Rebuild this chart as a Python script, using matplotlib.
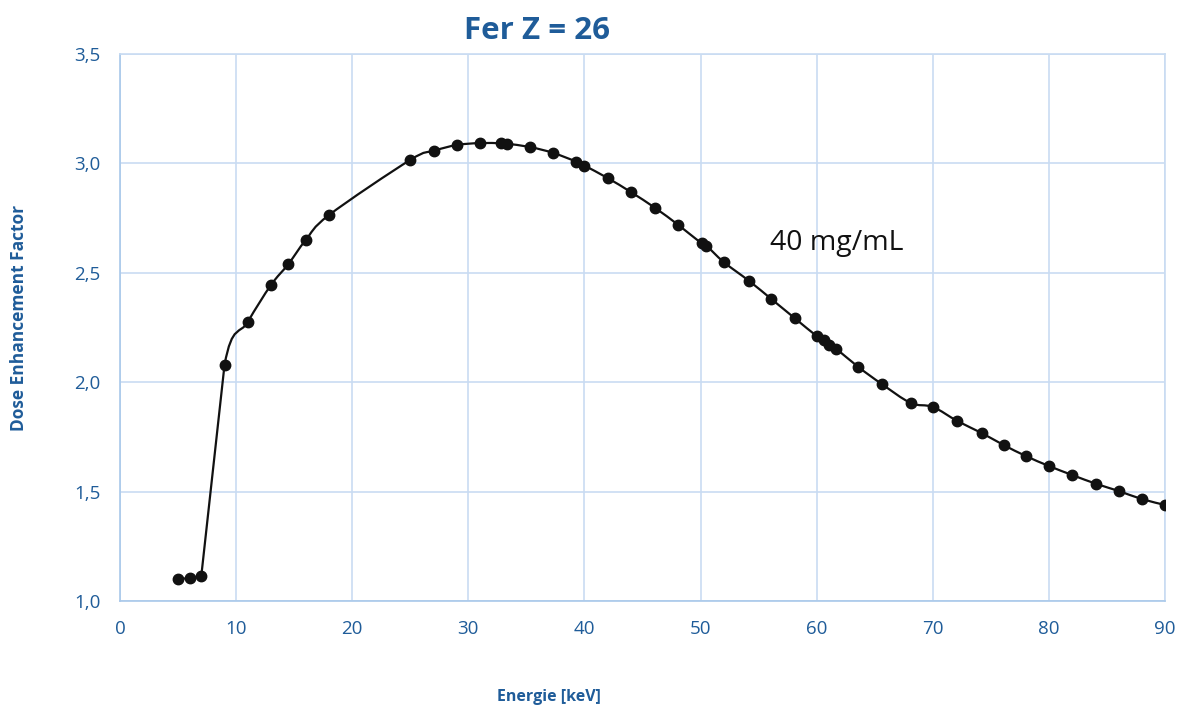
import numpy as np
import matplotlib
matplotlib.use('Agg')
import matplotlib.pyplot as plt
from matplotlib.path import Path
from matplotlib.patches import PathPatch
from matplotlib.ticker import FuncFormatter

# ---------------------------
# Data
# ---------------------------
energy = [5, 6, 7, 9, 11, 13, 14.5, 16, 18, 25, 27, 29, 31, 32.8, 33.3,
          35.3, 37.3, 39.3, 40, 42, 44, 46.1, 48.1, 50.1, 50.5, 52, 54.2,
          56.1, 58.1, 60, 60.6, 61.1, 61.7, 63.6, 65.6, 68.1, 70, 72.1,
          74.2, 76.1, 78, 80, 82, 84.1, 86, 88, 90]
def_values = [1.10, 1.105, 1.114, 2.078, 2.275, 2.444, 2.54, 2.65, 2.764,
              3.016, 3.057, 3.084, 3.093, 3.092, 3.090, 3.075, 3.048, 3.008,
              2.99, 2.933, 2.869, 2.796, 2.718, 2.634, 2.624, 2.549, 2.462,
              2.380, 2.293, 2.211, 2.193, 2.172, 2.152, 2.069, 1.992, 1.905,
              1.887, 1.823, 1.768, 1.713, 1.663, 1.617, 1.576, 1.535, 1.503,
              1.466, 1.439]

title = 'Fer Z = 26'
xlabel = 'Energie [keV]'
ylabel = 'Dose Enhancement Factor'
note = '40 mg/mL'

blue = '#1F5C99'
grid_blue = '#C9DCF2'

plt.rcParams['font.family'] = ['Open Sans', 'DejaVu Sans']

fig = plt.figure(figsize=(11.78, 7.05), dpi=100)
ax = fig.add_axes([120 / 1178, 1 - 601 / 705, 1045 / 1178, 547 / 705])

# smoothed line through the points (bezier), kept straight on the sharp edge step
pts = np.column_stack([energy, def_values])
verts = [pts[0]]
codes = [Path.MOVETO]
n = len(pts)
for i in range(n - 1):
    p0 = pts[i - 1] if i > 0 else pts[i]
    p1 = pts[i]
    p2 = pts[i + 1]
    p3 = pts[i + 2] if i + 2 < n else pts[i + 1]
    if i < 3:
        c1 = p1 + (p2 - p1) / 3.0
        c2 = p2 - (p2 - p1) / 3.0
    else:
        c1 = p1 + (p2 - p0) / 6.0
        c2 = p2 - (p3 - p1) / 6.0
    verts += [c1, c2, p2]
    codes += [Path.CURVE4] * 3
ax.add_patch(PathPatch(Path(verts, codes), facecolor='none', edgecolor='#111111',
                       lw=1.6, zorder=3))
ax.plot(energy, def_values, linestyle='none', marker='o', markersize=7.5,
        color='#111111', zorder=4)

ax.text(56, 2.636, note, fontsize=20.5, va='center', ha='left', color='#111111')

ax.set_xlim(0, 90)
ax.set_ylim(1.0, 3.5)
ax.set_xticks(np.arange(0, 91, 10))
ax.set_yticks(np.arange(1.0, 3.51, 0.5))
ax.yaxis.set_major_formatter(FuncFormatter(lambda v, p: f'{v:.1f}'.replace('.', ',')))
ax.grid(True, color=grid_blue, lw=1.2)
ax.set_axisbelow(True)
for s in ax.spines.values():
    s.set_color(grid_blue)
    s.set_linewidth(1.2)
ax.spines['bottom'].set_color('#A9C8EA')
ax.spines['left'].set_color('#A9C8EA')
ax.tick_params(length=0, labelsize=13.5, labelcolor=blue)
ax.tick_params(axis='x', pad=14)
ax.tick_params(axis='y', pad=14)

fig.text(537 / 1178, 1 - 31 / 705, title, fontsize=22.5, fontweight='bold',
         color=blue, ha='center', va='center')
fig.text(549 / 1178, 1 - 697 / 705, xlabel, fontsize=11.5, fontweight='bold',
         color=blue, ha='center', va='center')
fig.text(19 / 1178, 1 - 318 / 705, ylabel, fontsize=12.5, fontweight='bold',
         color=blue, ha='center', va='center', rotation=90)

fig.savefig('out.png', dpi=100)
